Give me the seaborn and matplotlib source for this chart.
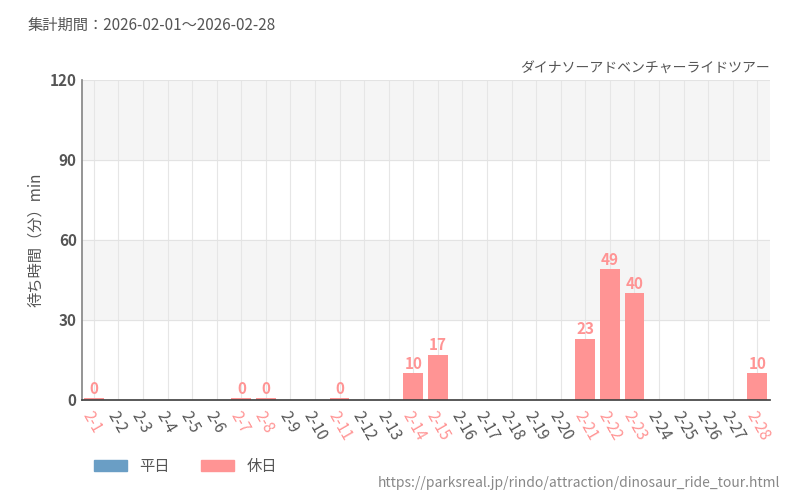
import numpy as np
import pandas as pd
import matplotlib.pyplot as plt
import seaborn as sns
from matplotlib.patches import Patch

sns.set_theme(style="white")
plt.rcParams['font.family'] = ['Noto Sans CJK JP', 'DejaVu Sans']

# データ
days = [f"2-{d}" for d in range(1, 29)]
holidays = ["2-1", "2-7", "2-8", "2-11", "2-14", "2-15", "2-21", "2-22", "2-23", "2-28"]
holiday_waits = [0, 0, 0, 0, 10, 17, 23, 49, 40, 10]
y_ticks = [0, 30, 60, 90, 120]

WEEKDAY = '#6a9ec5'
HOLIDAY = '#ff9494'
TEXT = '#555555'

wait = dict(zip(holidays, holiday_waits))
df = pd.DataFrame({'day': days,
                   'wait': [wait.get(d, np.nan) for d in days]})
df['plot'] = df['wait'].apply(lambda v: max(v, 0.6) if pd.notna(v) else np.nan)

fig = plt.figure(figsize=(8, 5), dpi=100)
ax = fig.add_axes([0.102, 0.2, 0.86, 0.64])

for lo in (30, 90):
    ax.axhspan(lo, lo + 30, color='#f5f5f5', zorder=0)
for i in range(len(days)):
    ax.axvline(i, color='#e6e6e6', lw=0.8, zorder=0)
for y in y_ticks[1:]:
    ax.axhline(y, color='#e3e3e3', lw=0.8, zorder=0)

sns.barplot(data=df, x='day', y='plot', color=HOLIDAY, saturation=1, width=0.8,
            linewidth=0, ax=ax, zorder=2)

for i, v in enumerate(df['wait']):
    if pd.notna(v):
        ax.text(i, max(v, 0.6) + 0.5, f"{int(v)}", ha='center', va='bottom',
                color=HOLIDAY, fontsize=11, fontweight='bold')

ax.set_ylim(0, 120)
ax.set_xlim(-0.5, len(days) - 0.5)
ax.set_yticks(y_ticks)
ax.set_yticklabels([str(t) for t in y_ticks], fontsize=11, color=TEXT, fontweight='bold')
ax.set_xticks(range(len(days)))
ax.set_xticklabels(days, rotation=-60, ha='left', rotation_mode='anchor', fontsize=11)
for lbl in ax.get_xticklabels():
    lbl.set_color(HOLIDAY if lbl.get_text() in holidays else TEXT)
ax.tick_params(axis='x', length=4, color='#444444', pad=2)
ax.tick_params(axis='y', length=0)
ax.set_xlabel('')
ax.set_ylabel('待ち時間（分）min', color=TEXT, fontsize=11)
for s in ('top', 'right'):
    ax.spines[s].set_visible(False)
ax.spines['bottom'].set_color('#444444')
ax.spines['left'].set_color('#888888')

fig.text(0.035, 0.95, '集計期間：2026-02-01～2026-02-28', fontsize=11, color=TEXT, va='center')
fig.text(0.962, 0.862, 'ダイナソーアドベンチャーライドツアー', fontsize=10, color=TEXT,
         ha='right', va='center')
fig.text(0.975, 0.035, 'https://parksreal.jp/rindo/attraction/dinosaur_ride_tour.html',
         fontsize=10, color='#888888', ha='right', va='center')

handles = [Patch(color=WEEKDAY, label='平日'), Patch(color=HOLIDAY, label='休日')]
fig.legend(handles=handles, loc='center left', bbox_to_anchor=(0.1, 0.067), ncol=2,
           frameon=False, fontsize=11, handlelength=2.2, columnspacing=2.0,
           labelcolor=TEXT)

fig.savefig('out.png', dpi=100)
